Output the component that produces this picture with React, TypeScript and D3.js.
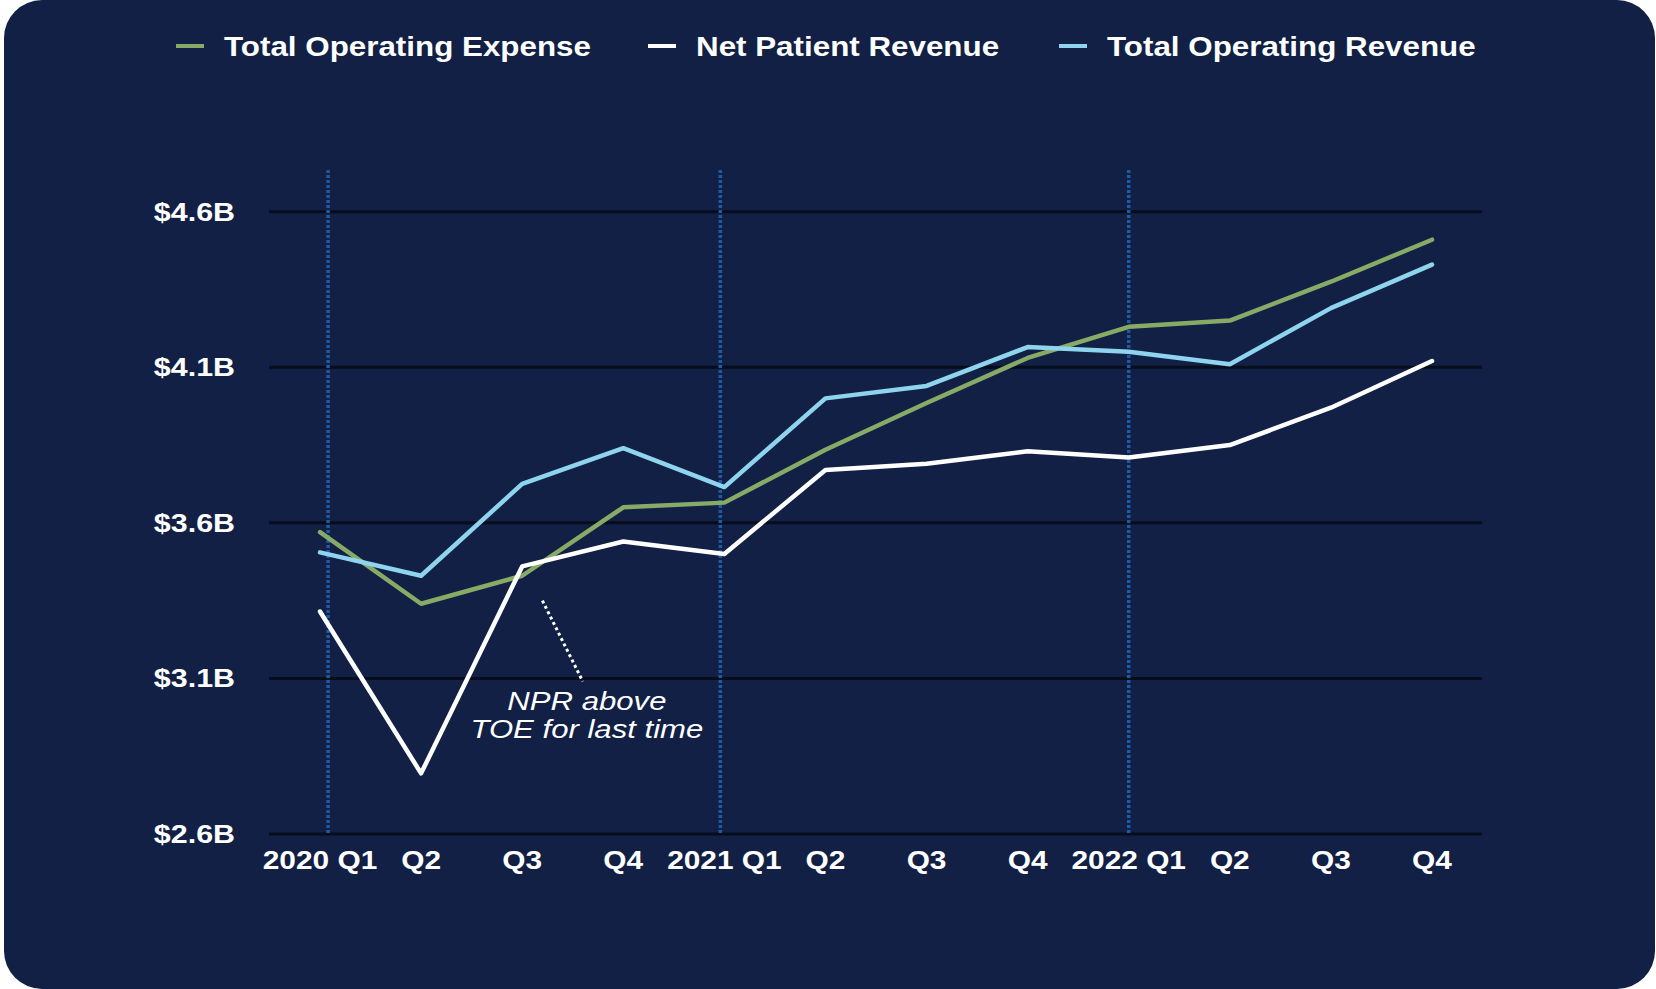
import React from "react";
import * as d3 from "d3";

// quarters along the x axis
const quarterLabels = [
  "2020 Q1", "Q2", "Q3", "Q4",
  "2021 Q1", "Q2", "Q3", "Q4",
  "2022 Q1", "Q2", "Q3", "Q4",
];

// values in $B
const totalOperatingExpense = [3.57, 3.34, 3.43, 3.65, 3.665, 3.835, 3.985, 4.13, 4.23, 4.25, 4.375, 4.51];
const netPatientRevenue = [3.315, 2.795, 3.46, 3.54, 3.5, 3.77, 3.79, 3.83, 3.81, 3.85, 3.97, 4.12];
const totalOperatingRevenue = [3.505, 3.43, 3.725, 3.84, 3.715, 4.0, 4.04, 4.165, 4.15, 4.11, 4.29, 4.43];

const yTicks = [2.6, 3.1, 3.6, 4.1, 4.6];
const yearMarkers = [0.08, 3.96, 8.0]; // dotted year separators, in quarter index

const seriesNames = ["Total Operating Expense", "Net Patient Revenue", "Total Operating Revenue"];
const seriesColors = ["#87aa66", "#ffffff", "#8fd4ef"];

const annotationLines = ["NPR above", "TOE for last time"];

const W = 1656;
const H = 989;
const SX = 1.17; // text in the source is a little wider than Arial
const FONT = "'Liberation Sans', Arial, Helvetica, sans-serif";

const Txt = ({ x, y, anchor = "start", size = 26, weight = "bold", italic = false, fill = "#ffffff", children }: any) => (
  <g transform={`translate(${x},${y}) scale(${SX},1)`}>
    <text
      textAnchor={anchor}
      fontFamily={FONT}
      fontSize={size}
      fontWeight={weight}
      fontStyle={italic ? "italic" : "normal"}
      fill={fill}
    >
      {children}
    </text>
  </g>
);

export default function App() {
  const x = d3.scaleLinear().domain([0, quarterLabels.length - 1]).range([320, 1432]);
  const y = d3.scaleLinear().domain([2.6, 4.6]).range([834, 211.7]);
  const gridLeft = 269;
  const gridRight = 1482;

  const line = d3.line<number>()
    .x((_, i) => x(i))
    .y(d => y(d));

  const series = [totalOperatingExpense, netPatientRevenue, totalOperatingRevenue];
  const legendX = [176, 648, 1059];

  return (
    <svg width={W} height={H} style={{ position: "absolute", left: 0, top: 0, display: "block" }}>
      <rect x={0} y={0} width={W} height={H} fill="#ffffff" />
      <rect x={4} y={0} width={W - 5} height={H} rx={38} ry={38} fill="#112044" />

      {/* legend */}
      {seriesNames.map((name, i) => (
        <g key={name}>
          <line x1={legendX[i]} x2={legendX[i] + 28} y1={46} y2={46} stroke={seriesColors[i]} strokeWidth={4} />
          <Txt x={legendX[i] + 48} y={56} size={26.8}>{name}</Txt>
        </g>
      ))}

      {/* horizontal gridlines */}
      {yTicks.map(t => (
        <g key={t}>
          <line x1={gridLeft} x2={gridRight} y1={y(t)} y2={y(t)} stroke="#070d1c" strokeWidth={3} />
          <Txt x={235} y={y(t) + 9} anchor="end" size={26}>{`$${t.toFixed(1)}B`}</Txt>
        </g>
      ))}

      {/* year separators */}
      {yearMarkers.map(m => (
        <line key={m} x1={x(m)} x2={x(m)} y1={170} y2={y(2.6)} stroke="#1f5ba3" strokeWidth={3.5} strokeDasharray="3,2" />
      ))}

      {/* x labels */}
      {quarterLabels.map((q, i) => (
        <Txt key={i} x={x(i)} y={869} anchor="middle" size={25.5}>{q}</Txt>
      ))}

      {/* series lines */}
      {series.map((s, i) => (
        <path key={i} d={line(s) || ""} fill="none" stroke={seriesColors[i]} strokeWidth={4.5}
          strokeLinecap="round" strokeLinejoin="round" />
      ))}

      {/* annotation */}
      <line x1={x(2.2)} y1={y(3.35)} x2={x(2.6)} y2={y(3.09)} stroke="#ffffff" strokeWidth={3} strokeDasharray="3,3" />
      {annotationLines.map((t, i) => (
        <Txt key={t} x={x(2.64)} y={710 + i * 28} anchor="middle" size={26.6} weight="normal" italic>{t}</Txt>
      ))}
    </svg>
  );
}
